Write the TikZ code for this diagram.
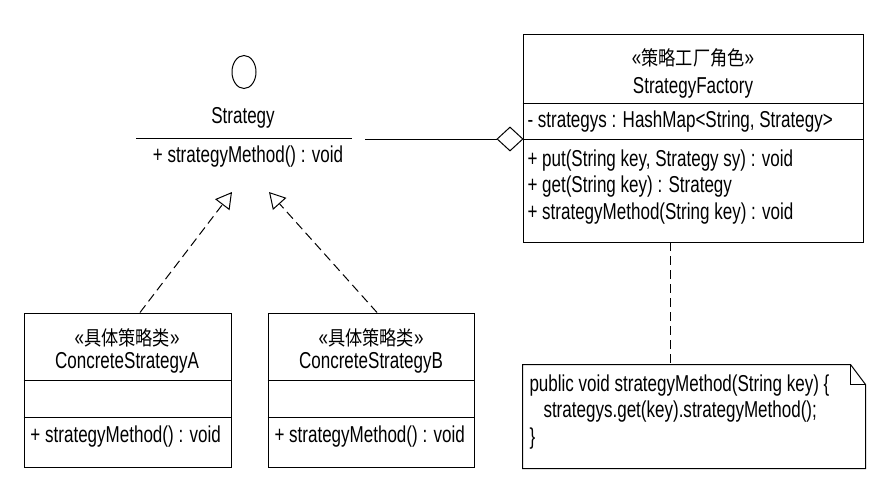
\documentclass[tikz,border=0pt]{standalone}
\usepackage{fontspec}
\setmainfont{Liberation Sans}[FakeStretch=0.74]
\newfontfamily\cjk{Noto Sans CJK SC}[FakeStretch=0.86]
\newcommand\cjktext[1]{{\fontsize{20}{26.5}\cjk #1}}
\usetikzlibrary{positioning,shapes.geometric,arrows.meta}
\tikzset{box/.style={draw,inner sep=0pt},
         txt/.style={inner sep=0pt},
         lft/.style={inner sep=0pt,anchor=west,align=left},
         dep/.style={dash pattern=on 9pt off 5pt},
         realize/.style={dep,-{Triangle[open,length=16pt,width=18pt]}}
     }

\begin{document}
\begin{tikzpicture}[x=1pt,y=-1pt,line width=1pt,font=\fontsize{23}{26.5}\selectfont]
\useasboundingbox (0,0) rectangle (889,503);
% interface
\node[draw,ellipse,minimum width=24pt,minimum height=33pt,inner sep=0pt] (o) at (244,72) {};
\node[txt] (s) at (243,118) {Strategy};
\coordinate (sl) at (136,138);
\coordinate (sr) at (352,138);
\draw (sl) -- (sr);
\node[txt] (sm) at (248,157) {+ strategyMethod() : void};
% factory
\node[box,minimum width=340pt,minimum height=207pt] (f) at (693,138.5) {};
\draw (f.west |- 0,103) -- (f.east |- 0,103);
\draw (f.west |- 0,139) -- (f.east |- 0,139);
\node[txt] (fs) at (693,58) {«\cjktext{策略工厂角色}»};
\node[txt] (fn) at (693,88) {StrategyFactory};
\node[lft] (fa) at (527,122) {- strategys : HashMap<String, Strategy>};
\node[lft] (fm) at (527,187) {+ put(String key, Strategy sy) : void\\+ get(String key) : Strategy\\+ strategyMethod(String key) : void};
\node[draw,diamond,fill=white,minimum width=26pt,minimum height=24pt,inner sep=0pt] (d) at (510,139) {};
\coordinate (c) at (365,139);
\draw (c) -- (d.west);
% note
\node[minimum width=342pt,minimum height=103pt,inner sep=0pt] (n) at (694,416.5) {};
\draw (n.north west) -- ([xshift=-15pt]n.north east) -- ([yshift=-20pt]n.north east) -- (n.south east) -- (n.south west) -- cycle;
\draw ([xshift=-15pt]n.north east) |- ([yshift=-20pt]n.north east);
\node[lft] (nt) at (529,412) {public void strategyMethod(String key) \{\\\hspace{14pt}strategys.get(key).strategyMethod();\\\}};
\coordinate (fb) at (670,242);
\coordinate (nb) at (670,365);
\draw[dep] (fb) -- (nb);
% concrete classes
\node[box,minimum width=207pt,minimum height=154pt] (a) at (127.5,390) {};
\draw (a.west |- 0,380) -- (a.east |- 0,380);
\draw (a.west |- 0,417) -- (a.east |- 0,417);
\node[txt] (as) at (127,338) {«\cjktext{具体策略类}»};
\node[txt] (an) at (127,363) {ConcreteStrategyA};
\node[lft] (am) at (30,437) {+ strategyMethod() : void};
\node[box,minimum width=206pt,minimum height=154pt] (b) at (371,390) {};
\draw (b.west |- 0,380) -- (b.east |- 0,380);
\draw (b.west |- 0,417) -- (b.east |- 0,417);
\node[txt] (bs) at (371,338) {«\cjktext{具体策略类}»};
\node[txt] (bn) at (371,363) {ConcreteStrategyB};
\node[lft] (bm) at (274,437) {+ strategyMethod() : void};
\coordinate (ta) at (232,192);
\coordinate (tb) at (269,192);
\draw[realize] (a.north -| 140,0) -- (ta);
\draw[realize] (b.north -| 377,0) -- (tb);
\end{tikzpicture}
\end{document}
